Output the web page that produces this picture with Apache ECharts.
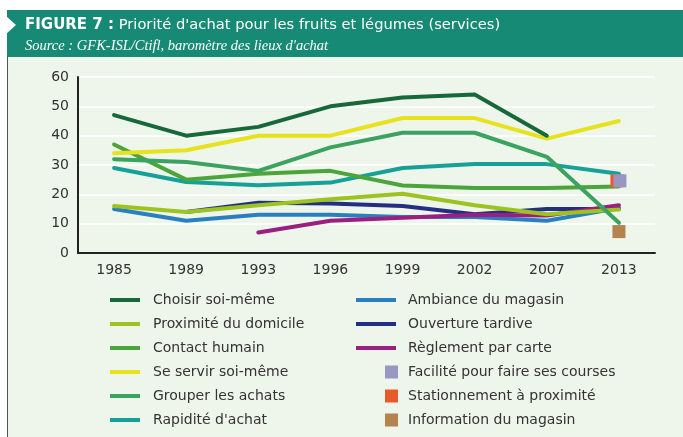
<!DOCTYPE html>
<html>
<head>
<meta charset="utf-8">
<script src="https://cdn.jsdelivr.net/npm/echarts@6/dist/echarts.min.js"></script>
<style>
  html, body { margin: 0; padding: 0; background: #fff; }
  #chart { width: 683px; height: 437px; }
</style>
</head>
<body>
<div id="chart"></div>
<script>
// Données
const years = ['1985', '1989', '1993', '1996', '1999', '2002', '2007', '2013']

const choisir = [47, 40, 43, 50, 53, 54, 40, null]
const proximite = [16, 14, 16.3, 18.3, 20.2, 16.3, 13.2, 14.8]
const contact = [37, 25, 27, 28, 23, 22.2, 22.2, 22.7]
const seServir = [34, 35, 40, 40, 46, 46, 39, 45]
const grouper = [32, 31, 28, 36, 41, 41, 32.8, 10.3]
const rapidite = [29, 24.2, 23.1, 24, 29, 30.3, 30.3, 27]
const ambiance = [15, 11, 13, 13, 12.3, 12.3, 11, 15.3]
const ouverture = [null, 14, 17.1, 16.9, 16, 13.2, 15, 15]
const reglement = [null, null, 7, 11, 12, 13, 12.8, 16.3]
const facilite = [['2013', 24.6]]
const stationnement = [['2013', 24.6]]
const information = [['2013', 7.3]]

const yTicks = { min: 0, max: 60, interval: 10 }

const FONT = 'DejaVu Sans'

const lineSeries = (name, data, color, z) => ({
  name,
  type: 'line',
  data,
  z,
  symbol: 'none',
  connectNulls: false,
  lineStyle: { color, width: 4, cap: 'round', join: 'round' },
  itemStyle: { color }
})

const squareSeries = (name, data, color, offset, z) => ({
  name,
  type: 'scatter',
  data,
  z,
  symbol: 'rect',
  symbolSize: 13,
  symbolOffset: offset,
  itemStyle: { color, opacity: 1 }
})

const chart = echarts.init(document.getElementById('chart'), null, { renderer: 'canvas' })

const legendText = (pad) => ({
  fontFamily: FONT,
  fontSize: 14,
  color: '#333',
  lineHeight: 16,
  padding: [0, 0, 0, pad]
})

chart.setOption({
  animation: false,
  backgroundColor: '#ffffff',
  graphic: [
    { type: 'rect', z: -10, shape: { x: 7, y: 57, width: 676, height: 380 }, style: { fill: '#eef5ea' } },
    { type: 'line', z: -9, shape: { x1: 7.5, y1: 57, x2: 7.5, y2: 437 }, style: { stroke: '#555', lineWidth: 1 } },
    { type: 'rect', z: -9, shape: { x: 7, y: 10, width: 676, height: 47 }, style: { fill: '#178a75' } },
    { type: 'polygon', z: -8, shape: { points: [[6, 16], [16, 25], [6, 34]] }, style: { fill: '#ffffff' } },
    {
      type: 'text', left: 25, top: 18,
      style: {
        text: '{b|FIGURE 7 :} Priorité d\'achat pour les fruits et légumes (services)',
        fill: '#ffffff',
        font: '14.7px "DejaVu Sans"',
        rich: { b: { fontWeight: 'bold', fontSize: 15, fontFamily: FONT, fill: '#ffffff' } }
      }
    },
    {
      type: 'text', left: 25, top: 39,
      style: {
        text: 'Source : GFK-ISL/Ctifl, baromètre des lieux d\'achat',
        fill: '#ffffff',
        font: 'italic 14.5px "Liberation Serif"'
      }
    }
  ],
  grid: { left: 78, right: 28, top: 77, bottom: 184 },
  xAxis: {
    type: 'category',
    data: years,
    boundaryGap: true,
    axisLine: { lineStyle: { color: '#222', width: 2 } },
    axisTick: { inside: true, length: 7, lineStyle: { color: '#222', width: 1.5 } },
    axisLabel: { color: '#333', fontFamily: FONT, fontSize: 14, margin: 10 }
  },
  yAxis: {
    type: 'value',
    min: yTicks.min,
    max: yTicks.max,
    interval: yTicks.interval,
    axisLine: { show: true, lineStyle: { color: '#222', width: 2 } },
    axisTick: { show: false },
    splitLine: { lineStyle: { color: '#ffffff', width: 1.5 } },
    axisLabel: { color: '#333', fontFamily: FONT, fontSize: 14, margin: 9 }
  },
  legend: [
    {
      left: 110, top: 292, orient: 'vertical', itemGap: 8, padding: 0,
      itemWidth: 30, itemHeight: 4, icon: 'rect',
      textStyle: legendText(8),
      data: ['Choisir soi-même', 'Proximité du domicile', 'Contact humain',
        'Se servir soi-même', 'Grouper les achats', 'Rapidité d\'achat']
    },
    {
      left: 356, top: 292, orient: 'vertical', itemGap: 8, padding: 0,
      itemWidth: 40, itemHeight: 4, icon: 'rect',
      textStyle: legendText(7),
      data: ['Ambiance du magasin', 'Ouverture tardive', 'Règlement par carte']
    },
    {
      left: 385, top: 364, orient: 'vertical', itemGap: 8, padding: 0,
      itemWidth: 13, itemHeight: 13, icon: 'rect',
      textStyle: legendText(5),
      data: ['Facilité pour faire ses courses', 'Stationnement à proximité', 'Information du magasin']
    }
  ],
  series: [
    lineSeries('Ambiance du magasin', ambiance, '#2a7fc0', 2),
    lineSeries('Ouverture tardive', ouverture, '#232f82', 3),
    lineSeries('Règlement par carte', reglement, '#9b1f80', 4),
    lineSeries('Rapidité d\'achat', rapidite, '#15a197', 5),
    lineSeries('Contact humain', contact, '#4ba53b', 6),
    lineSeries('Se servir soi-même', seServir, '#e6e21c', 7),
    lineSeries('Choisir soi-même', choisir, '#17683a', 8),
    lineSeries('Proximité du domicile', proximite, '#9cc31f', 9),
    lineSeries('Grouper les achats', grouper, '#3ba35f', 10),
    squareSeries('Stationnement à proximité', stationnement, '#e85a2a', [-2, 0], 11),
    squareSeries('Facilité pour faire ses courses', facilite, '#9a96c4', [1, 0], 12),
    squareSeries('Information du magasin', information, '#b5834e', [0, 0], 12)
  ]
})
</script>
</body>
</html>
